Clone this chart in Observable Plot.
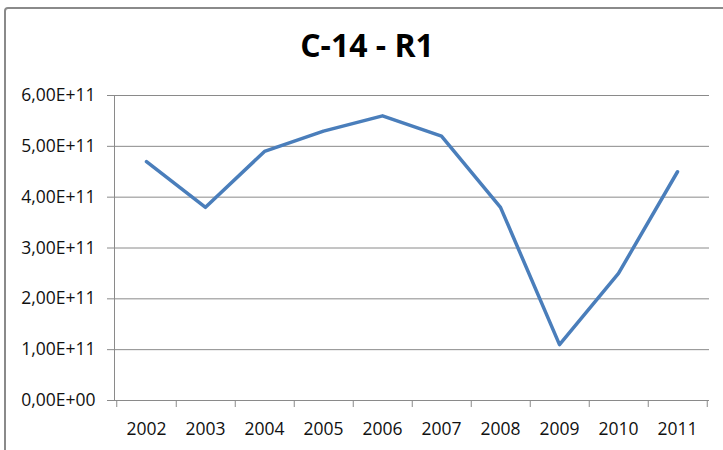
<!DOCTYPE html>
<html>
<head>
<meta charset="utf-8">
<script src="https://cdn.jsdelivr.net/npm/d3@7"></script>
<script src="https://cdn.jsdelivr.net/npm/@observablehq/plot@0.6"></script>
<style>
  html, body { margin: 0; padding: 0; background: #fff; }
  #wrap { position: relative; width: 723px; height: 450px; overflow: hidden; }
  #border { position: absolute; left: 4px; top: 7px; width: 900px; height: 700px;
            border: 2px solid #8a8a8a; border-radius: 4px; pointer-events: none; }
</style>
</head>
<body>
<div id="wrap"><div id="border"></div></div>
<script>
const title = "C-14 - R1";
const years = ["2002","2003","2004","2005","2006","2007","2008","2009","2010","2011"];
const values = [4.7e11, 3.8e11, 4.9e11, 5.3e11, 5.6e11, 5.2e11, 3.8e11, 1.1e11, 2.5e11, 4.5e11];
const yTicks = [0, 1e11, 2e11, 3e11, 4e11, 5e11, 6e11];
const yTickLabels = ["0,00E+00","1,00E+11","2,00E+11","3,00E+11","4,00E+11","5,00E+11","6,00E+11"];

const data = years.map((y, i) => ({year: y, value: values[i]}));

const W = 723, H = 450, mL = 114, mR = 14, mT = 95, mB = 50;
const half = (W - mL - mR) / years.length / 2;
const titleShift = (W / 2 + 5) - (mL + (W - mL - mR) / 2);
const grey = "#8a8a8a";

const chart = Plot.plot({
  width: W, height: H,
  marginLeft: mL, marginRight: mR, marginTop: mT, marginBottom: mB,
  style: {fontFamily: "'Open Sans', sans-serif", fontSize: "17.5px", color: "#000", background: "transparent"},
  x: {type: "point", domain: years, padding: 0.5},
  y: {domain: [0, 6e11]},
  marks: [
    Plot.gridY(yTicks, {stroke: grey, strokeOpacity: 1, strokeWidth: 1}),
    Plot.frame({anchor: "left", stroke: grey, strokeWidth: 1}),
    Plot.axisY(yTicks, {tickSize: 7, text: null, label: null, stroke: grey, strokeOpacity: 1}),
    Plot.axisY(yTicks, {tickSize: 0, tickPadding: 19, label: null, fill: "#111",
      tickFormat: d => yTickLabels[yTicks.indexOf(d)]}),
    Plot.ruleX(years, {x: d => d, dx: half, y1: 0, y2: 0, insetBottom: -7, stroke: grey}),
    Plot.ruleX([years[0]], {x: d => d, dx: -half, y1: 0, y2: 0, insetBottom: -7, stroke: grey}),
    Plot.axisX({tickSize: 0, tickPadding: 22, label: null, fill: "#111"}),
    Plot.line(data, {x: "year", y: "value", stroke: "#4a7ebb", strokeWidth: 3.5, strokeLinejoin: "round", strokeLinecap: "round"}),
    Plot.text([title], {frameAnchor: "top", dx: titleShift, dy: -49, text: d => d, fontSize: 32, fontWeight: "bold", fill: "#000", lineAnchor: "middle"})
  ]
});
document.getElementById("wrap").prepend(chart);
</script>
</body>
</html>
